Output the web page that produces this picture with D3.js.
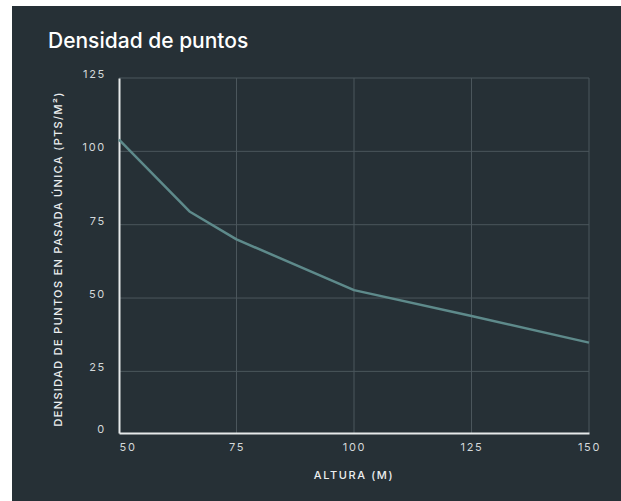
<!DOCTYPE html>
<html>
<head>
<meta charset="utf-8">
<script src="https://cdn.jsdelivr.net/npm/d3@7"></script>
<style>
  html, body { margin: 0; padding: 0; background: #ffffff; }
  svg { display: block; }
</style>
</head>
<body>
<svg id="chart" width="621" height="501"></svg>
<script>
// altura de vuelo (m) y densidad (pts/m²)
const altura = [50, 65, 75, 100, 125, 150];
const densidad = [104, 79.5, 70, 52.7, 43.9, 34.8];
const xTicks = [50, 75, 100, 125, 150];
const yTicks = [0, 25, 50, 75, 100, 125];

const svg = d3.select("#chart");
const font = "Inter, 'Noto Sans', sans-serif";

// dark panel
svg.append("rect")
  .attr("x", 12).attr("y", 6)
  .attr("width", 621).attr("height", 501)
  .attr("fill", "#263036");

// SCALES
const x = d3.scaleLinear().domain([50, 150]).range([119, 589]);
const y = d3.scaleLinear().domain([4, 125]).range([433, 78]).clamp(true);

// grid
const grid = svg.append("g");
grid.selectAll(".gy")
  .data(yTicks.filter(d => d > 0))
  .join("line")
  .attr("x1", 119).attr("x2", 589)
  .attr("y1", d => y(d)).attr("y2", d => y(d))
  .attr("stroke", "#4b565c").attr("stroke-width", 1);
grid.selectAll(".gx")
  .data(xTicks.filter(d => d > 50))
  .join("line")
  .attr("x1", d => x(d)).attr("x2", d => x(d))
  .attr("y1", 78).attr("y2", 433)
  .attr("stroke", "#4b565c").attr("stroke-width", 1);

// AXIS
const yAxis = d3.axisLeft(y).tickValues(yTicks).tickSize(0).tickPadding(13);
svg.append("g")
  .attr("transform", "translate(119,0)")
  .call(yAxis)
  .call(g => g.select(".domain").attr("stroke", "#e6e9ea").attr("stroke-width", 2))
  .selectAll("text")
  .attr("dy", "-0.05em")
  .attr("fill", "#d4d8da")
  .style("font-family", font)
  .style("font-size", "11px")
  .style("letter-spacing", "1.7px");

const xAxis = d3.axisBottom(x).tickValues(xTicks).tickSize(0).tickPadding(10);
svg.append("g")
  .attr("transform", "translate(0,433)")
  .call(xAxis)
  .call(g => g.select(".domain").attr("stroke", "#e6e9ea").attr("stroke-width", 2))
  .selectAll("text")
  .attr("fill", "#d4d8da")
  .attr("text-anchor", (d, i) => i === 0 ? "start" : "middle")
  .style("font-family", font)
  .style("font-size", "11px")
  .style("letter-spacing", "1.7px");

// line
const line = d3.line()
  .x((d, i) => x(altura[i]))
  .y(d => y(d));
svg.append("path")
  .datum(densidad)
  .attr("d", line)
  .attr("fill", "none")
  .attr("stroke", "#5e8a8b")
  .attr("stroke-width", 2.5)
  .attr("stroke-linejoin", "round");

// titles
svg.append("text")
  .attr("x", 48).attr("y", 48)
  .attr("fill", "#ffffff")
  .style("font-family", font)
  .style("font-size", "21px")
  .style("font-weight", 500)
  .text("Densidad de puntos");

svg.append("text")
  .attr("x", 354).attr("y", 479)
  .attr("text-anchor", "middle")
  .attr("fill", "#eceeef")
  .style("font-family", font)
  .style("font-size", "11px")
  .style("font-weight", 500)
  .style("letter-spacing", "1.6px")
  .text("ALTURA (M)");

svg.append("text")
  .attr("transform", "translate(62,259) rotate(-90)")
  .attr("text-anchor", "middle")
  .attr("fill", "#eceeef")
  .style("font-family", font)
  .style("font-size", "11px")
  .style("font-weight", 500)
  .style("letter-spacing", "1.35px")
  .text("DENSIDAD DE PUNTOS EN PASADA ÚNICA (PTS/M²)");
</script>
</body>
</html>
